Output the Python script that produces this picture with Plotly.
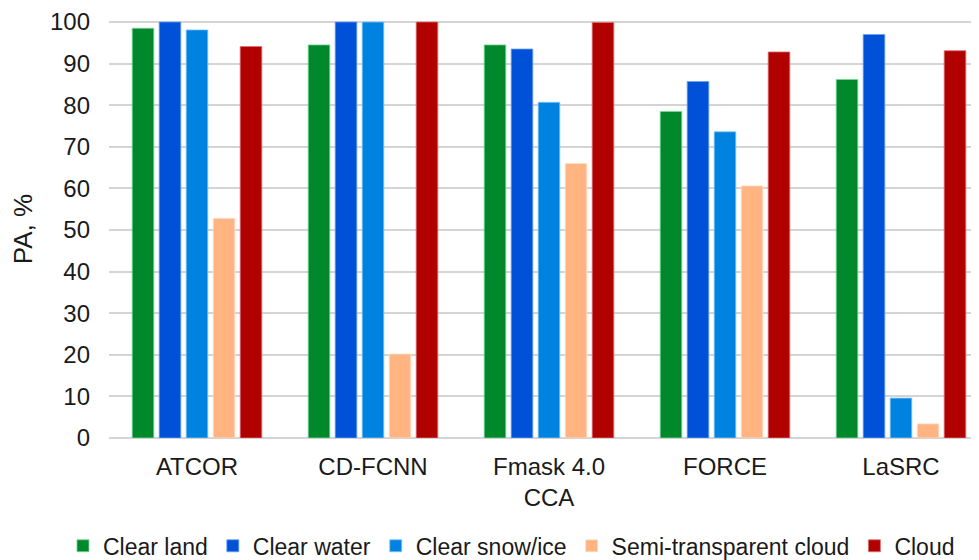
import plotly.graph_objects as go

categories = ["ATCOR", "CD-FCNN", "Fmask 4.0<br>CCA", "FORCE", "LaSRC"]
series_names = ["Clear land", "Clear water", "Clear snow/ice", "Semi-transparent cloud", "Cloud"]
clear_land = [98.5, 94.5, 94.5, 78.5, 86.2]
clear_water = [100.0, 100.0, 93.5, 85.7, 97.0]
clear_snow_ice = [98.1, 100.0, 80.7, 73.6, 9.6]
semi_transparent_cloud = [52.8, 20.2, 66.0, 60.6, 3.4]
cloud = [94.1, 100.0, 99.9, 92.8, 93.1]
y_ticks = [0, 10, 20, 30, 40, 50, 60, 70, 80, 90, 100]

colors = ["#00892B", "#0050D8", "#0082E0", "#FFB482", "#B00000"]
edge = ["#7fd49a", "#6aa0f0", "#7fc6f5", "#ffe0c8", "#e07070"]
values = [clear_land, clear_water, clear_snow_ice, semi_transparent_cloud, cloud]

fig = go.Figure()
for name, vals, c, e in zip(series_names, values, colors, edge):
    fig.add_trace(go.Bar(
        x=categories, y=vals, name=name,
        marker=dict(color=c, line=dict(color=e, width=0.8)),
    ))

# page body has an 8px margin; figure is sized to fill the rest of the window
W, H = 971, 552
left, right, top, bottom = 101, 0, 12, 122
plot_w = W - left - right
cat_px = 176
x_max = -0.5 + plot_w / cat_px
plot_h = H - top - bottom
px_per_unit = (438 - 22) / 100
y_max = plot_h / px_per_unit

txt = "#1a1a1a"
fig.update_layout(
    width=W, height=H,
    margin=dict(l=left, r=right, t=top, b=bottom, pad=0, autoexpand=False),
    paper_bgcolor="white", plot_bgcolor="white",
    font=dict(family="Liberation Sans, Arial, sans-serif", size=24, color=txt),
    barmode="group", bargap=0.233, bargroupgap=0.2,
    showlegend=True,
    legend=dict(orientation="h", x=-0.0529, xanchor="left", y=-0.258, yanchor="middle",
                font=dict(size=23, color=txt), itemwidth=30, traceorder="normal",
                tracegroupgap=0),
    xaxis=dict(range=[-0.5, x_max], showgrid=False, showline=False, zeroline=False,
               ticks="", ticklabelstandoff=12, tickfont=dict(size=24, color=txt)),
    yaxis=dict(range=[0, y_max], tickvals=y_ticks, showgrid=True, gridcolor="#d4d4d4",
               gridwidth=1.5, zeroline=True, zerolinecolor="#d4d4d4", zerolinewidth=1.5,
               showline=False, ticks="", ticklabelstandoff=18,
               tickfont=dict(size=24, color=txt),
               title=dict(text="PA, %", font=dict(size=26, color=txt), standoff=12)),
)

fig.write_html("out.html")
